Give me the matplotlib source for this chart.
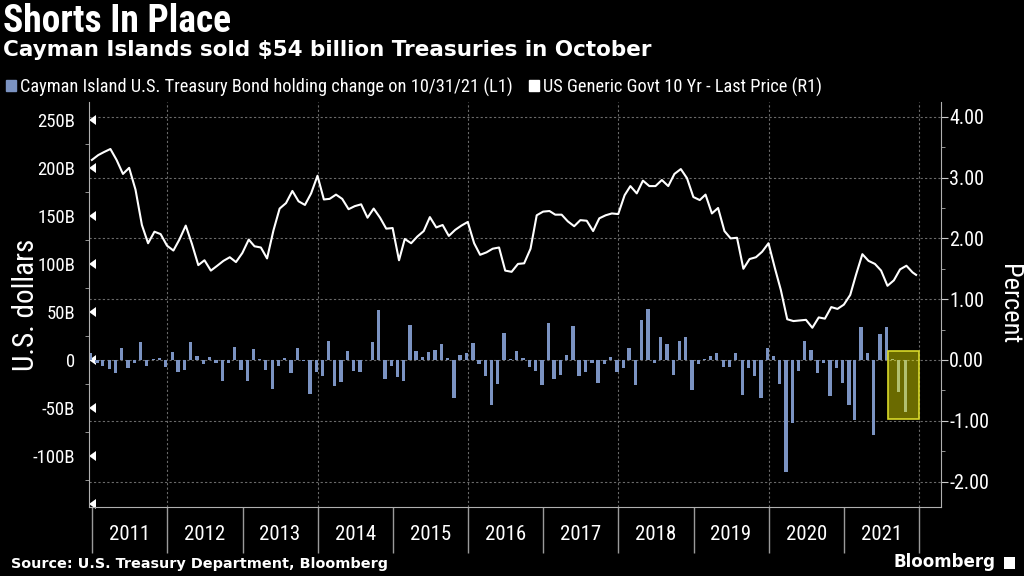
import pandas as pd
import matplotlib
matplotlib.use('Agg')
from matplotlib import pyplot as plt
from matplotlib import dates as mdates
from matplotlib import font_manager as fm
from matplotlib.ticker import FixedLocator, FixedFormatter, MultipleLocator
from matplotlib.patches import Rectangle, Patch

# data
# monthly change of Cayman Islands Treasury holdings, Dec 2010 .. Oct 2021 (billions)
holding_change = [
    7, -3, -6, -9, -14, 13, -8, -3, 19, -6, 1, 2, -7,
    8, -12, -10, 19, 4, -4, 3, -3.5, -22, -3.5, 14, -10,
    -22, 11, 0.7, -10, -30.5, -6, 1.7, -14, 12, -1, -35, -12,
    -17, 19.4, -27, -23, 9.7, -11, -12, 0.5, 19, 52, -20, -6,
    -18, -22, 36.5, 9.7, 2.8, 8, 10.4, 16.7, 1.7, -40, 5, 7,
    18, -4, -17, -47, -25, 28, 1.4, 9.7, 1.7, -7, -11.5, -26,
    39, -19.4, -16, 5, 35, -17, -13, -3.5, -23.6, -4, 3.5, -12,
    -8, 13, -26, 42, 53, -3.5, 23.6, 17, -15.6, 19.4, 23.6, -31,
    -4, 0.7, 4, 7.6, -7.6, -7.6, 7.6, -36, -8.7, -17, -39.6, 13,
    4, -25, -117, -66, -11, 20, 10.4, -14, -3, -37.5, -8.7, -23.6,
    -47, -62, 34.7, 7, -78, 26.7, 34.7, 1, -33.6, -54,
]
bar_dates = pd.date_range('2010-12-31', periods=len(holding_change), freq='ME')

# US 10 yr yield, month ends Dec 2010 .. Nov 2021, plus last price
yield_10y = [
    3.29,
    3.37, 3.42, 3.47, 3.29, 3.06, 3.16, 2.80, 2.22, 1.92, 2.11, 2.07, 1.88,
    1.80, 1.98, 2.21, 1.91, 1.56, 1.64, 1.47, 1.55, 1.63, 1.69, 1.61, 1.76,
    1.98, 1.87, 1.85, 1.67, 2.13, 2.49, 2.58, 2.78, 2.61, 2.55, 2.74, 3.03,
    2.64, 2.65, 2.72, 2.65, 2.48, 2.53, 2.56, 2.34, 2.49, 2.34, 2.16, 2.17,
    1.64, 1.99, 1.92, 2.03, 2.12, 2.35, 2.18, 2.22, 2.04, 2.14, 2.21, 2.27,
    1.92, 1.73, 1.77, 1.83, 1.85, 1.47, 1.45, 1.58, 1.59, 1.83, 2.38, 2.44,
    2.45, 2.39, 2.39, 2.28, 2.20, 2.30, 2.29, 2.12, 2.33, 2.38, 2.41, 2.40,
    2.71, 2.86, 2.74, 2.95, 2.86, 2.86, 2.96, 2.86, 3.06, 3.14, 2.99, 2.68,
    2.63, 2.72, 2.41, 2.50, 2.12, 2.00, 2.01, 1.50, 1.66, 1.69, 1.78, 1.92,
    1.51, 1.15, 0.67, 0.64, 0.65, 0.66, 0.53, 0.70, 0.68, 0.87, 0.84, 0.91,
    1.07, 1.40, 1.74, 1.63, 1.58, 1.47, 1.22, 1.31, 1.49, 1.55, 1.44,
    1.40,
]
yield_dates = list(pd.date_range('2010-12-31', periods=len(yield_10y) - 1, freq='ME')) + [pd.Timestamp('2021-12-17')]

left_ticks = [250, 200, 150, 100, 50, 0, -50, -100, -150]
left_labels = ['250B', '200B', '150B', '100B', '50B', '0', '-50B', '-100B', '']
right_ticks = [4, 3, 2, 1, 0, -1, -2]
right_labels = ['4.00', '3.00', '2.00', '1.00', '0.00', '-1.00', '-2.00']
years = list(range(2011, 2022))
grid_years = [2012, 2014, 2016, 2018, 2020, 2022]

# highlighted window (Aug - Dec 2021), in billions on left axis
box_start, box_end = '2021-08-01', '2022-01-01'
box_low, box_high = -61.5, 9.5

bar_color = '#7b93c2'
fg = 'white'
grid_c = '#6a6a6a'

available = {f.name for f in fm.fontManager.ttflist}
narrow = 'DejaVu Sans'
for name in ['Liberation Sans Narrow', 'Roboto Condensed', 'Roboto']:
    if name in available:
        narrow = name
        break
plt.rcParams['font.family'] = [narrow, 'DejaVu Sans']
plt.rcParams['axes.unicode_minus'] = False

fig = plt.figure(figsize=(10.24, 5.76), dpi=100, facecolor='black')
ax = fig.add_axes([89 / 1024, 1 - 507 / 576, (941 - 89) / 1024, (507 - 102) / 576])
ax2 = ax.twinx()

# bars on top, line axes underneath carrying the grid
ax.set_zorder(2)
ax.patch.set_visible(False)
ax2.set_zorder(1)
ax2.patch.set_facecolor('black')

bar_x = mdates.date2num(bar_dates) - 6
ax.bar(bar_x, holding_change, width=16, color=bar_color, zorder=2)
ax2.plot(yield_dates, yield_10y, color='white', lw=1.5, zorder=3)

bx0 = mdates.date2num(pd.Timestamp(box_start))
bx1 = mdates.date2num(pd.Timestamp(box_end))
ax.add_patch(Rectangle((bx0, box_low), bx1 - bx0, box_high - box_low,
                       facecolor=(1, 1, 0, 0.42), edgecolor='#d9d92a', lw=1.2, zorder=4))

ax.set_xlim(mdates.date2num(pd.Timestamp('2010-12-17')), mdates.date2num(pd.Timestamp('2022-04-17')))
ax.set_ylim(-153.1, 268.75)
ax2.set_ylim(-2.418, 4.243)

# grid
for y in right_ticks:
    ax2.axhline(y, color=grid_c, lw=0.8, ls=(0, (2, 2)), zorder=1)
for yr in grid_years:
    ax2.axvline(pd.Timestamp(f'{yr}-01-01'), color=grid_c, lw=0.8, ls=(0, (2, 2)), zorder=1)

# x axis: year separators and centred labels
ax.xaxis.set_major_locator(FixedLocator(mdates.date2num([pd.Timestamp(f'{y}-01-01') for y in years + [2022]])))
ax.xaxis.set_major_formatter(FixedFormatter([''] * (len(years) + 1)))
ax.xaxis.set_minor_locator(FixedLocator(mdates.date2num([pd.Timestamp(f'{y}-07-02') for y in years])))
ax.xaxis.set_minor_formatter(FixedFormatter([str(y) for y in years]))
ax.tick_params(axis='x', which='major', length=33, width=1, color='#9a9a9a', direction='out')
ax.tick_params(axis='x', which='minor', length=0, pad=13, labelsize=15, labelcolor=fg)

# left axis
ax.yaxis.set_major_locator(FixedLocator(left_ticks))
ax.yaxis.set_major_formatter(FixedFormatter(left_labels))
ax.yaxis.set_minor_locator(MultipleLocator(25))
ax.tick_params(axis='y', which='major', length=5, labelsize=13.5, labelcolor=fg, color=fg, pad=5)
ax.tick_params(axis='y', which='minor', length=3, color='#aaaaaa')
for t in ax.yaxis.get_major_ticks():
    t.tick1line.set_marker(4)
    t.tick1line.set_markersize(6.5)
    t.tick1line.set_markeredgewidth(0)
    t.tick1line.set_color(fg)
ax.set_ylabel('U.S. dollars', fontsize=21, color=fg)
ax.yaxis.set_label_coords(-0.058, 0.5)

# right axis
ax2.yaxis.set_major_locator(FixedLocator(right_ticks))
ax2.yaxis.set_major_formatter(FixedFormatter(right_labels))
ax2.yaxis.set_minor_locator(MultipleLocator(0.5))
ax2.tick_params(axis='y', which='major', length=5, labelsize=14.5, labelcolor=fg, color='#cccccc', pad=1)
ax2.tick_params(axis='y', which='minor', length=3, color='#aaaaaa')
ax2.set_ylabel('Percent', fontsize=19, color=fg, rotation=270, va='center')
ax2.yaxis.set_label_coords(1.08, 0.5)

for a in (ax, ax2):
    a.spines['top'].set_visible(False)
    for s in ('left', 'right', 'bottom'):
        a.spines[s].set_color('#b0b0b0')
ax.spines['right'].set_visible(False)
ax2.spines['left'].set_visible(False)
ax2.spines['bottom'].set_visible(False)

# titles, legend, footer
fig.text(0.003, 1 - 3 / 576, 'Shorts In Place', color=fg, fontsize=27, fontweight='bold', va='top')
fig.text(0.003, 1 - 40 / 576, 'Cayman Islands sold $54 billion Treasuries in October', color=fg,
         fontsize=15.5, fontweight='bold', va='top', family='DejaVu Sans')
handles = [Patch(color=bar_color), Patch(color='white')]
fig.legend(handles, ['Cayman Island U.S. Treasury Bond holding change on 10/31/21 (L1)',
                     'US Generic Govt 10 Yr - Last Price (R1)'],
           loc='center left', bbox_to_anchor=(0.006, 1 - 87 / 576), ncol=2, frameon=False,
           fontsize=13.2, labelcolor=fg, handlelength=0.55, handleheight=0.55, handletextpad=0.2,
           columnspacing=0.9, borderpad=0, borderaxespad=0)
fig.text(0.011, 1 - 564 / 576, 'Source: U.S. Treasury Department, Bloomberg', color=fg, fontsize=10.4,
         fontweight='bold', va='center', family='DejaVu Sans')
fig.text(0.972, 1 - 562 / 576, 'Bloomberg', color=fg, fontsize=12, fontweight='bold', va='center',
         ha='right', family='DejaVu Sans')
fig.patches.append(Rectangle((1004 / 1024, 1 - 569 / 576), 11 / 1024, 12 / 576, transform=fig.transFigure,
                             facecolor='white', edgecolor='none'))

fig.savefig('out.png', dpi=100, facecolor='black')
